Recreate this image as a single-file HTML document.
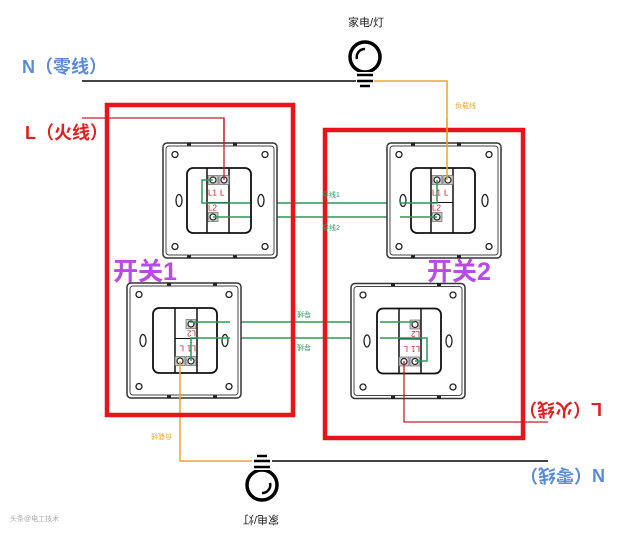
<!DOCTYPE html>
<html><head><meta charset="utf-8"><style>
body{margin:0;background:#fff}
svg{display:block}
text{font-family:"Liberation Sans","Noto Sans CJK SC",sans-serif}
</style></head><body>
<svg width="640" height="537" viewBox="0 0 640 537" xmlns="http://www.w3.org/2000/svg">
<defs>
<g id="sw">
<!-- local coords centered on plate center -->
<rect x="-57" y="-57.5" width="114" height="115" rx="4" fill="#fff" stroke="#333" stroke-width="1.5"/>
<rect x="-54" y="-54.5" width="108" height="109" rx="3" fill="none" stroke="#444" stroke-width="1"/>
<rect x="-33" y="-58" width="4" height="3" fill="#222"/><rect x="13" y="-58" width="4" height="3" fill="#222"/>
<rect x="-33" y="55" width="4" height="3" fill="#222"/><rect x="13" y="55" width="4" height="3" fill="#222"/>
<circle cx="-45" cy="-46" r="3" fill="none" stroke="#222" stroke-width="1.3"/>
<circle cx="45" cy="-46" r="3" fill="none" stroke="#222" stroke-width="1.3"/>
<circle cx="-45" cy="46" r="3" fill="none" stroke="#222" stroke-width="1.3"/>
<circle cx="45" cy="46" r="3" fill="none" stroke="#222" stroke-width="1.3"/>
<ellipse cx="-41" cy="0" rx="3" ry="6" fill="none" stroke="#222" stroke-width="1.3"/>
<ellipse cx="41" cy="0" rx="3" ry="6" fill="none" stroke="#222" stroke-width="1.3"/>
<rect x="-33" y="-32.5" width="64" height="65" rx="6" fill="none" stroke="#111" stroke-width="1.8"/>
<line x1="-13" y1="-32.5" x2="-13" y2="32.5" stroke="#111" stroke-width="1.5"/>
<line x1="9" y1="-32.5" x2="9" y2="32.5" stroke="#111" stroke-width="1.5"/>
<line x1="-13" y1="2" x2="9" y2="2" stroke="#111" stroke-width="1"/>
<rect x="-12" y="-25" width="10" height="9" fill="#ccc" stroke="#555" stroke-width=".6"/>
<rect x="-1" y="-25" width="10" height="9" fill="#ccc" stroke="#555" stroke-width=".6"/>
<rect x="-12" y="12" width="10" height="9" fill="#ccc" stroke="#555" stroke-width=".6"/>
<circle cx="-7" cy="-20.5" r="3" fill="#fff" stroke="#222" stroke-width="1.2"/>
<circle cx="4" cy="-20.5" r="3" fill="#fff" stroke="#222" stroke-width="1.2"/>
<circle cx="-7" cy="16.5" r="3" fill="#fff" stroke="#222" stroke-width="1.2"/>
<text x="-12" y="-5" font-size="8" fill="#c0202a">L1</text>
<text x="0" y="-5" font-size="8" fill="#c0202a">L</text>
<text x="-12" y="10" font-size="8" fill="#c0202a">L2</text>
</g>
<g id="bulb">
<circle cx="0" cy="0" r="15" fill="#fff" stroke="#000" stroke-width="3.5"/>
<path d="M-8 2 A8 8 0 0 1 0 -8" fill="none" stroke="#000" stroke-width="2.5"/>
<rect x="-9" y="15" width="18" height="10" fill="#fff"/>
<line x1="-8" y1="18" x2="8" y2="18" stroke="#000" stroke-width="2.5"/>
<line x1="-8" y1="24" x2="8" y2="24" stroke="#000" stroke-width="2.5"/>
<line x1="-5" y1="29" x2="5" y2="29" stroke="#000" stroke-width="2.5"/>
</g>
</defs>

<!-- top wires -->
<line x1="82" y1="81" x2="356" y2="81" stroke="#444" stroke-width="2"/>
<polyline points="374,81 447,81 447,180" fill="none" stroke="#e8a630" stroke-width="1.5"/>
<polyline points="82,118 224,118 224,180" fill="none" stroke="#c0202a" stroke-width="1.3"/>
<polyline points="213,180 202,180 202,203 437,203 437,180" fill="none" stroke="#2a9a5a" stroke-width="1.5"/>
<line x1="213" y1="217" x2="437" y2="217" stroke="#2a9a5a" stroke-width="1.5"/>
<!-- bottom wires -->
<line x1="272" y1="461" x2="548" y2="461" stroke="#444" stroke-width="2"/>
<polyline points="180,361 180,461 252,461" fill="none" stroke="#e8a630" stroke-width="1.5"/>
<polyline points="404,361 404,422 548,422" fill="none" stroke="#c0202a" stroke-width="1.3"/>
<line x1="190" y1="322" x2="415" y2="322" stroke="#2a9a5a" stroke-width="1.5"/>
<polyline points="191,361 191,338 427,338 427,361 415,361" fill="none" stroke="#2a9a5a" stroke-width="1.5"/>

<!-- boxes -->
<rect x="107" y="105" width="186" height="310" fill="none" stroke="#e8141c" stroke-width="4.5"/>
<rect x="325" y="130" width="198" height="308" fill="none" stroke="#e8141c" stroke-width="4.5"/>

<!-- switches -->
<use href="#sw" transform="translate(220,200.5)"/>
<use href="#sw" transform="translate(444,200.5)"/>
<use href="#sw" transform="translate(184,340.5) rotate(180)"/>
<use href="#sw" transform="translate(408,341) rotate(180)"/>

<!-- redraw wire tips over switches -->
<polyline points="447,118 447,180" fill="none" stroke="#e8a630" stroke-width="1.5"/>
<polyline points="224,118 224,180" fill="none" stroke="#c0202a" stroke-width="1.3"/>
<polyline points="213,180 202,180 202,203 250,203" fill="none" stroke="#2a9a5a" stroke-width="1.5"/>
<line x1="213" y1="217" x2="250" y2="217" stroke="#2a9a5a" stroke-width="1.5"/>
<polyline points="400,203 437,203 437,180" fill="none" stroke="#2a9a5a" stroke-width="1.5"/>
<line x1="400" y1="217" x2="437" y2="217" stroke="#2a9a5a" stroke-width="1.5"/>
<line x1="190" y1="322" x2="230" y2="322" stroke="#2a9a5a" stroke-width="1.5"/>
<polyline points="191,361 191,338 230,338" fill="none" stroke="#2a9a5a" stroke-width="1.5"/>
<line x1="380" y1="322" x2="415" y2="322" stroke="#2a9a5a" stroke-width="1.5"/>
<polyline points="380,338 427,338 427,361 415,361" fill="none" stroke="#2a9a5a" stroke-width="1.5"/>
<line x1="180" y1="361" x2="180" y2="400" stroke="#e8a630" stroke-width="1.5"/>
<line x1="404" y1="361" x2="404" y2="400" stroke="#c0202a" stroke-width="1.3"/>

<!-- bulbs -->
<use href="#bulb" transform="translate(365,57)"/>
<use href="#bulb" transform="translate(262,485) rotate(180)"/>

<!-- labels top -->
<text x="348" y="26" font-size="11" fill="#222">家电/灯</text>
<text x="22" y="73" font-size="18" font-weight="bold" fill="#5a8ad8">N（零线）</text>
<text x="25" y="139" font-size="18" font-weight="bold" fill="#e02020">L（火线）</text>
<text x="455" y="108" font-size="7" fill="#e8a630">负载线</text>
<text x="322" y="197" font-size="7" fill="#2a9a5a">导线1</text>
<text x="322" y="230" font-size="7" fill="#2a9a5a">导线2</text>
<text x="113" y="280" font-size="25" font-weight="bold" fill="#b84ae8">开关1</text>
<text x="427" y="280" font-size="25" font-weight="bold" fill="#b84ae8">开关2</text>

<!-- labels bottom (rotated) -->
<g transform="rotate(180 313.5 271)">
<text x="348" y="26" font-size="11" fill="#222">家电/灯</text>
<text x="22" y="73" font-size="18" font-weight="bold" fill="#5a8ad8">N（零线）</text>
<text x="25" y="139" font-size="18" font-weight="bold" fill="#e02020">L（火线）</text>
<text x="455" y="108" font-size="7" fill="#e8a630">负载线</text>
<text x="316" y="197" font-size="7" fill="#2a9a5a">导线</text>
<text x="316" y="230" font-size="7" fill="#2a9a5a">导线</text>
</g>
<text x="10" y="521" font-size="7" fill="#aaa">头条@电工技术</text>
</svg>
</body></html>
